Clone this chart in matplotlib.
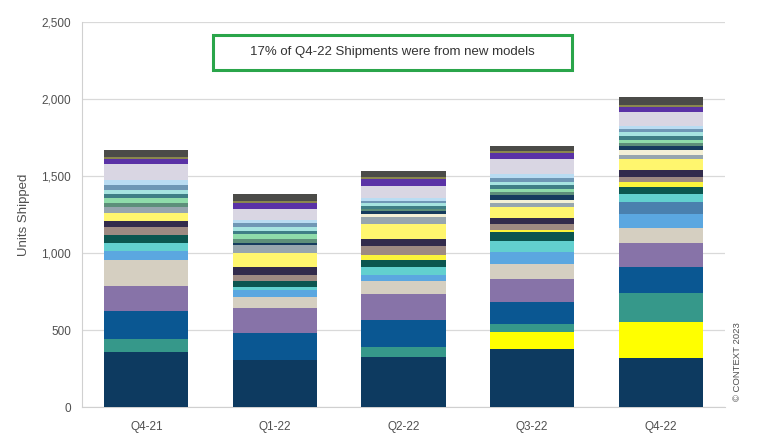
import numpy as np
import matplotlib
matplotlib.use("Agg")
import matplotlib.pyplot as plt
from matplotlib.patches import Rectangle
from matplotlib.ticker import FuncFormatter

plt.rcParams['font.family'] = ['Liberation Sans', 'DejaVu Sans']

quarters = ['Q4-21', 'Q1-22', 'Q2-22', 'Q3-22', 'Q4-22']

# models, bottom to top of the stack (units shipped per quarter)
navy        = [357, 305, 322, 377, 316]
new_a       = [0, 0, 0, 108, 234]
teal        = [84, 0, 65, 52, 188]
blue        = [182, 173, 178, 143, 173]
purple      = [163, 163, 169, 151, 151]
tan         = [169, 75, 86, 100, 98]
light_blue  = [58, 44, 37, 78, 91]
steel_blue  = [0, 0, 0, 0, 82]
turquoise   = [52, 17, 50, 69, 48]
dark_teal   = [52, 43, 48, 56, 45]
new_b       = [0, 0, 32, 15, 37]
mauve       = [52, 37, 58, 37, 29]
dark_purple = [39, 50, 44, 39, 47]
pale_yellow = [54, 95, 99, 71, 69]
grey_blue   = [35, 50, 44, 27, 28]
cream       = [0, 0, 20, 21, 33]
stripe0     = [0, 15, 20, 30, 25]
stripe1     = [30, 25, 15, 20, 20]
stripe2     = [30, 30, 0, 20, 20]
stripe3     = [25, 20, 18, 25, 25]
stripe4     = [30, 30, 20, 25, 25]
stripe5     = [30, 20, 15, 25, 20]
stripe6     = [32, 22, 20, 23, 21]
lavender    = [104, 70, 75, 98, 93]
violet      = [34, 43, 47, 37, 32]
olive       = [13, 13, 13, 13, 13]
dark_grey   = [44, 43, 40, 37, 48]

series = [
    (navy, '#0d3a60'), (new_a, '#ffff00'), (teal, '#36988a'), (blue, '#0a5792'),
    (purple, '#8773a8'), (tan, '#d5cfc1'), (light_blue, '#5ba7e0'),
    (steel_blue, '#4a80ae'), (turquoise, '#62d0cf'), (dark_teal, '#0b5650'),
    (new_b, '#fbf43c'), (mauve, '#9e8a82'), (dark_purple, '#322b4c'),
    (pale_yellow, '#fff66e'), (grey_blue, '#97a6ae'), (cream, '#f3f0d6'),
    (stripe0, '#163c5e'), (stripe1, '#5d8f7a'), (stripe2, '#8fdcaa'),
    (stripe3, '#3f7f86'), (stripe4, '#a6e4e0'), (stripe5, '#6f97b5'),
    (stripe6, '#b9dcf2'), (lavender, '#d9d6e3'), (violet, '#5a32a6'),
    (olive, '#8a874e'), (dark_grey, '#4b4b48'),
]

fig = plt.figure(figsize=(7.68, 4.46), dpi=100)
ax = fig.add_axes([0.1068, 0.0874, 0.8372, 0.8633])

x = np.arange(len(quarters))
bottom = np.zeros(len(quarters))
for vals, col in series:
    ax.bar(x, vals, width=0.655, bottom=bottom, color=col, linewidth=0, zorder=3)
    bottom += np.array(vals)

ax.set_xlim(-0.5, len(quarters) - 0.5)
ax.set_ylim(0, 2500)
ax.set_yticks(range(0, 2501, 500))
ax.yaxis.set_major_formatter(FuncFormatter(lambda v, p: f'{int(v):,}'))
ax.set_xticks(x)
ax.set_xticklabels(quarters)
ax.grid(axis='y', color='#d9d9d9', linewidth=0.9, zorder=0)
for s in ['top', 'right']:
    ax.spines[s].set_visible(False)
for s in ['left', 'bottom']:
    ax.spines[s].set_color('#d0d0d0')
ax.tick_params(axis='both', length=0, labelsize=8.5, colors='#505050', pad=8)
ax.tick_params(axis='x', pad=10)
ax.set_ylabel('Units Shipped', fontsize=9.5, color='#505050', labelpad=8)

# annotation box
fig.patches.append(Rectangle((213 / 768, 1 - 70 / 446), 359 / 768, 35 / 446,
                             transform=fig.transFigure, fill=False,
                             edgecolor='#2aa54a', linewidth=2.2))
fig.text(392 / 768, 1 - 52.5 / 446, '17% of Q4-22 Shipments were from new models',
         ha='center', va='center', fontsize=9.5, color='#333333')

fig.text(737 / 768, 1 - 362 / 446, '© CONTEXT 2023', rotation=90,
         ha='center', va='center', fontsize=6.8, color='#505050')

fig.savefig('out.png', dpi=100)
